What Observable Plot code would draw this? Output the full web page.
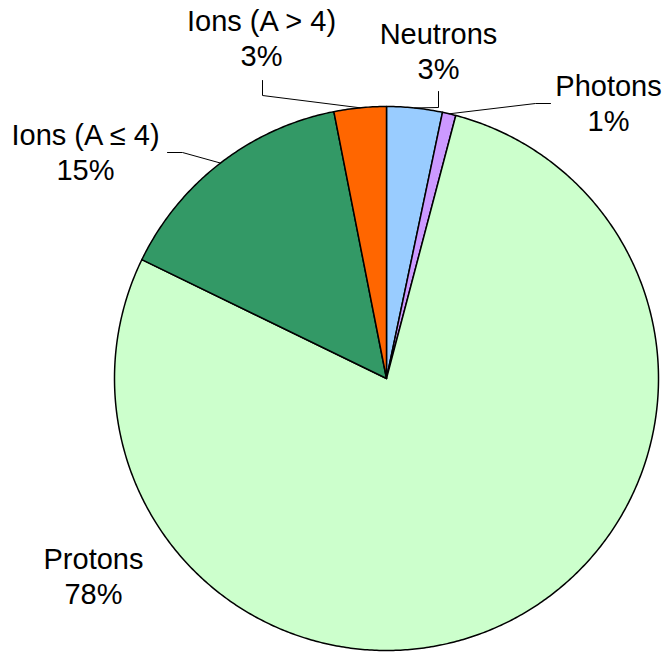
<!DOCTYPE html>
<html>
<head>
<meta charset="utf-8">
<script src="https://cdn.jsdelivr.net/npm/d3@7"></script>
<script src="https://cdn.jsdelivr.net/npm/@observablehq/plot@0.6"></script>
<style>
  html, body { margin: 0; padding: 0; background: #ffffff; }
</style>
</head>
<body>
<div id="chart"></div>
<script>
// ---- data ----
const categories = ["Neutrons", "Photons", "Protons", "Ions (A ≤ 4)", "Ions (A > 4)"];
const shares = [3.3, 0.8, 78.1, 14.7, 3.1]; // percent, clockwise from 12 o'clock
const palette = ["#99ccff", "#cc99ff", "#ccffcc", "#339966", "#ff6600"];

// ---- layout (pixels) ----
const W = 665, H = 652;
const CX = 386, CY = 378, R = 272;
// label block: centre x, baseline of the last line; leader: bend points before the arc
const labelLayout = [
  { name: "Neutrons",     x: 438, y: 78,  leader: [[438, 91], [438, 107]] },
  { name: "Photons",      x: 608, y: 130, leader: [[550, 103], [535, 103]] },
  { name: "Protons",      x: 93,  y: 603, leader: [] },
  { name: "Ions (A ≤ 4)", x: 85,  y: 179, leader: [[167, 152], [182, 152]] },
  { name: "Ions (A > 4)", x: 261, y: 65,  leader: [[262, 80], [262, 95]] }
];

// pixel -> pie units (radius 1, y up)
const ux = px => (px - CX) / R;
const uy = py => (CY - py) / R;

const table = categories.map((name, i) => ({ name, value: shares[i] }));
const total = d3.sum(shares);
const arcs = d3.pie().sort(null).value(d => d.value)(table);

// slice outlines
const slicePts = [];
for (const a of arcs) {
  const n = Math.max(2, Math.ceil((a.endAngle - a.startAngle) / (Math.PI / 360)));
  slicePts.push({ name: a.data.name, x: 0, y: 0 });
  for (let k = 0; k <= n; k++) {
    const t = a.startAngle + (a.endAngle - a.startAngle) * k / n;
    slicePts.push({ name: a.data.name, x: Math.sin(t), y: Math.cos(t) });
  }
  slicePts.push({ name: a.data.name, x: 0, y: 0 });
}

// leader lines (end at arc midpoint of each slice)
const leaderPts = [];
for (const L of labelLayout) {
  if (!L.leader.length) continue;
  const a = arcs.find(d => d.data.name === L.name);
  const m = (a.startAngle + a.endAngle) / 2;
  for (const [px, py] of L.leader) leaderPts.push({ name: L.name, x: ux(px), y: uy(py) });
  leaderPts.push({ name: L.name, x: Math.sin(m), y: Math.cos(m) });
}

const labels = labelLayout.map(L => {
  const a = arcs.find(d => d.data.name === L.name);
  return {
    x: ux(L.x), y: uy(L.y),
    text: `${L.name}\n${Math.round(a.data.value / total * 100)}%`
  };
});

const chart = Plot.plot({
  width: W,
  height: H,
  margin: 0,
  style: { fontFamily: "'Liberation Sans', Arial, sans-serif", background: "#ffffff" },
  x: { domain: [-CX / R, (W - CX) / R], axis: null },
  y: { domain: [-(H - CY) / R, CY / R], axis: null },
  color: { domain: categories, range: palette },
  marks: [
    Plot.line(slicePts, { x: "x", y: "y", z: "name", fill: "name", stroke: "#000000", strokeWidth: 1.5, curve: "linear" }),
    Plot.line(leaderPts, { x: "x", y: "y", z: "name", stroke: "#000000", strokeWidth: 1, curve: "linear" }),
    Plot.text(labels, {
      x: "x", y: "y", text: "text",
      fontSize: 29, lineHeight: 1.207, lineAnchor: "bottom", textAnchor: "middle",
      fill: "#000000", fontFamily: "'Liberation Sans', Arial, sans-serif"
    })
  ]
});
document.getElementById("chart").appendChild(chart);
</script>
</body>
</html>
